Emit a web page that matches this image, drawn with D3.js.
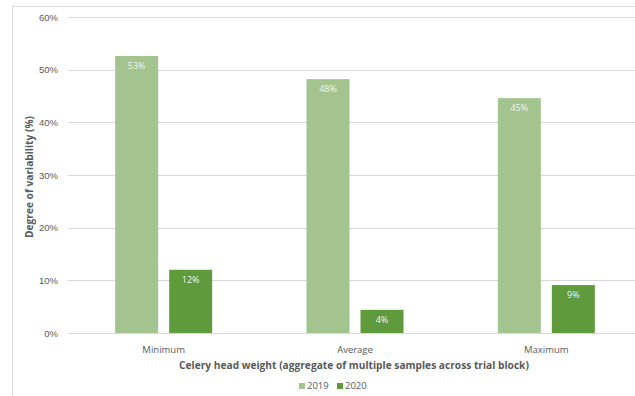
<!DOCTYPE html>
<html>
<head>
<meta charset="utf-8">
<script src="https://cdn.jsdelivr.net/npm/d3@7"></script>
<style>
  body { margin: 0; background: #fff; }
  svg { display: block; font-family: "Open Sans", "Liberation Sans", sans-serif; }
</style>
</head>
<body>
<script>
// données du graphique
const categories = ["Minimum", "Average", "Maximum"];
const series = ["2019", "2020"];
const values2019 = [0.526, 0.482, 0.446];
const values2020 = [0.120, 0.044, 0.091];
const labels2019 = ["53%", "48%", "45%"];
const labels2020 = ["12%", "4%", "9%"];
const yTicks = [0, 0.1, 0.2, 0.3, 0.4, 0.5, 0.6];
const colors = ["#a3c48f", "#5f9a3c"];

const width = 635, height = 396;
const margin = { left: 68, top: 17, bottom: 63 };
const plotRight = 642;

const svg = d3.select("body").append("svg")
    .attr("width", width)
    .attr("height", height);

// cadre du graphique (coupé à droite et en bas)
svg.append("path")
    .attr("d", `M12.5,${height}V6.5H${width}`)
    .attr("fill", "none")
    .attr("stroke", "#d9d9d9");

const x = d3.scaleBand()
    .domain(categories)
    .range([margin.left, plotRight]);

const y = d3.scaleLinear()
    .domain([0, 0.6])
    .range([height - margin.bottom, margin.top]);

// grille horizontale
svg.append("g")
    .selectAll("line")
    .data(yTicks)
    .join("line")
    .attr("x1", margin.left)
    .attr("x2", plotRight)
    .attr("y1", d => Math.round(y(d)) + 0.5)
    .attr("y2", d => Math.round(y(d)) + 0.5)
    .attr("stroke", "#d9d9d9")
    .attr("stroke-width", 1);

// étiquettes de l'axe Y
const yAxis = d3.axisLeft(y).tickValues(yTicks).tickFormat(d3.format(".0%")).tickSize(0).tickPadding(10);
svg.append("g")
    .attr("transform", `translate(${margin.left},0)`)
    .call(yAxis)
    .call(g => g.select(".domain").remove())
    .call(g => g.selectAll("text").attr("fill", "#595959").attr("font-size", 9.5).attr("font-family", "inherit"));

// barres
const barW = 43, gap = 11;
const inner = d3.scaleOrdinal().domain(series).range([0, barW + gap]);
const groupOffset = (x.bandwidth() - (2 * barW + gap)) / 2;

const rows = categories.map((c, i) => ({ cat: c, vals: [values2019[i], values2020[i]], labs: [labels2019[i], labels2020[i]] }));

const groups = svg.append("g")
    .selectAll("g")
    .data(rows)
    .join("g")
    .attr("transform", d => `translate(${x(d.cat) + groupOffset},0)`);

series.forEach((s, si) => {
    groups.append("rect")
        .attr("x", inner(s))
        .attr("y", d => y(d.vals[si]))
        .attr("width", barW)
        .attr("height", d => y(0) - y(d.vals[si]))
        .attr("fill", colors[si]);

    groups.append("text")
        .attr("x", inner(s) + barW / 2)
        .attr("y", d => y(d.vals[si]) + 13)
        .attr("text-anchor", "middle")
        .attr("font-size", 9)
        .attr("fill", "#f2f2f2")
        .text(d => d.labs[si]);
});

// ligne de base
svg.append("line")
    .attr("x1", margin.left).attr("x2", plotRight)
    .attr("y1", Math.round(y(0)) + 0.5).attr("y2", Math.round(y(0)) + 0.5)
    .attr("stroke", "#d9d9d9");

// étiquettes de catégories
svg.append("g")
    .selectAll("text")
    .data(categories)
    .join("text")
    .attr("x", d => x(d) + x.bandwidth() / 2)
    .attr("y", 353)
    .attr("text-anchor", "middle")
    .attr("font-size", 9.5)
    .attr("fill", "#595959")
    .text(d => d);

// titres des axes
svg.append("text")
    .attr("x", 354)
    .attr("y", 369)
    .attr("text-anchor", "middle")
    .attr("font-size", 10.2)
    .attr("font-weight", "bold")
    .attr("fill", "#595959")
    .text("Celery head weight (aggregate of multiple samples across trial block)");

svg.append("text")
    .attr("transform", `translate(33,${(y(0) + y(0.6)) / 2 + 2}) rotate(-90)`)
    .attr("text-anchor", "middle")
    .attr("font-size", 10.2)
    .attr("font-weight", "bold")
    .attr("fill", "#595959")
    .text("Degree of variability (%)");

// légende
const legend = svg.append("g").attr("transform", "translate(299,389)");
const legX = [0, 38];
series.forEach((s, i) => {
    legend.append("rect")
        .attr("x", legX[i]).attr("y", -6)
        .attr("width", 6).attr("height", 6)
        .attr("fill", colors[i]);
    legend.append("text")
        .attr("x", legX[i] + 8).attr("y", 0)
        .attr("font-size", 9.5)
        .attr("fill", "#595959")
        .text(s);
});
</script>
</body>
</html>
